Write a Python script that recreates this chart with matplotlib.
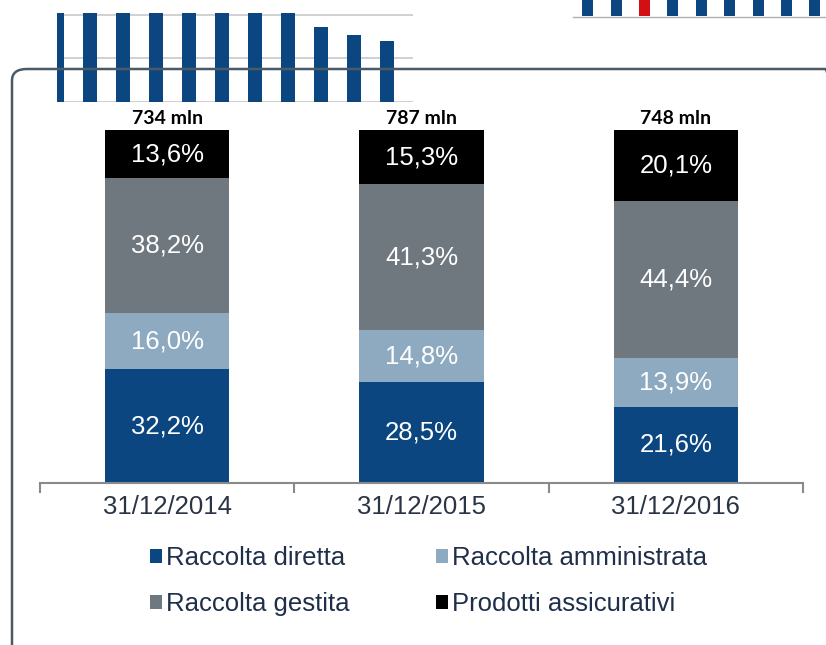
import matplotlib
matplotlib.use("Agg")
import matplotlib.pyplot as plt
from matplotlib.patches import Patch, FancyBboxPatch, Rectangle
import numpy as np

# ---- data ----
categories = ["31/12/2014", "31/12/2015", "31/12/2016"]
totals = ["734 mln", "787 mln", "748 mln"]
series_names = ["Raccolta diretta", "Raccolta amministrata", "Raccolta gestita", "Prodotti assicurativi"]
raccolta_diretta = [32.2, 28.5, 21.6]
raccolta_amministrata = [16.0, 14.8, 13.9]
raccolta_gestita = [38.2, 41.3, 44.4]
prodotti_assicurativi = [13.6, 15.3, 20.1]
colors = ["#0b4680", "#8eaac0", "#6f777f", "#000000"]

# decorative fragments visible in the screenshot
deco_left_heights = [1.2, 1.2, 1.2, 1.2, 1.2, 1.2, 1.2, 1.2, 0.84, 0.75, 0.69, 0.55]
deco_right_heights = [1, 1, 1, 1, 1, 1, 1, 1, 1]
deco_right_colors = ["#0b4680", "#0b4680", "#d40f14", "#0b4680", "#0b4680",
                     "#0b4680", "#0b4680", "#0b4680", "#0b4680"]

W, H = 826, 645
fig = plt.figure(figsize=(W / 100, H / 100), dpi=100)
fig.patch.set_facecolor("white")

def px_axes(x0, y0, x1, y1, **kw):
    return fig.add_axes([x0 / W, 1 - y1 / H, (x1 - x0) / W, (y1 - y0) / H], **kw)

# frame (rounded border)
frame = FancyBboxPatch((12 / W, -0.2), (840 - 12) / W, (1 - 69 / H) + 0.2,
                       boxstyle="round,pad=0,rounding_size=0.018",
                       transform=fig.transFigure, facecolor="none",
                       edgecolor="#4a5a66", linewidth=1.8, zorder=0)
fig.patches.append(frame)

# top-left decoration
axd = px_axes(57, 13, 413, 102)
xd = np.arange(len(deco_left_heights))
axd.bar(xd, deco_left_heights, width=0.42, color="#0b4680", zorder=2)
for g in [0, 0.49, 0.98]:
    axd.axhline(g, color="#c8c8c8", linewidth=1.2, zorder=1)
axd.set_xlim(0, 10.79)
axd.set_ylim(0, 1.0)
axd.axis("off")
axd.add_patch(Rectangle((0, 0), 1, 1, transform=axd.transAxes, facecolor="white", zorder=0))

# top-right decoration
axr = px_axes(573, 0, 826, 16)
xr = np.arange(len(deco_right_heights))
axr.bar(xr, deco_right_heights, width=0.39, color=deco_right_colors)
axr.set_xlim(-0.52, 8.39)
axr.set_ylim(0, 1)
axr.axis("off")
fig.add_artist(plt.Line2D([573 / W, 1], [1 - 16.5 / H] * 2, color="#b0b0b0", lw=1))

# main chart
ax = px_axes(40, 130, 803, 483)
x = np.arange(len(categories))
bw = 0.49
stack = [raccolta_diretta, raccolta_amministrata, raccolta_gestita, prodotti_assicurativi]
bottom = np.zeros(len(categories))
for vals, col, name in zip(stack, colors, series_names):
    vals = np.array(vals)
    ax.bar(x, vals, bw, bottom=bottom, color=col, label=name)
    for xi, b, v in zip(x, bottom, vals):
        ax.text(xi, b + v / 2, f"{v:.1f}".replace(".", ",") + "%",
                ha="center", va="center", color="white", fontsize=18.5,
                family="Liberation Sans")
    bottom = bottom + vals
for xi, t in zip(x, totals):
    ax.text(xi, 100.9, t, ha="center", va="bottom", fontsize=14,
            fontweight="bold", family="Lato", color="black", clip_on=False)

ax.set_xlim(-0.5, 2.5)
ax.set_ylim(0, 100)
for s in ["top", "right", "left"]:
    ax.spines[s].set_visible(False)
ax.spines["bottom"].set_color("#8a8a8a")
ax.spines["bottom"].set_linewidth(1.5)
ax.set_yticks([])
ax.set_xticks([-0.5, 0.5, 1.5, 2.5])
ax.set_xticklabels([])
ax.tick_params(axis="x", length=7, width=1.5, color="#8a8a8a", direction="out")
for xi, c in zip(x, categories):
    ax.text(xi, -3.3, c, ha="center", va="top", fontsize=18.5,
            family="Liberation Sans", color="#2b3445")

handles = [Patch(facecolor=c, edgecolor="none") for c in colors]
order = [0, 2, 1, 3]
leg = fig.legend([handles[i] for i in order], [series_names[i] for i in order],
                 ncol=2, loc="upper left", bbox_to_anchor=(127 / W, 1 - 523 / H),
                 frameon=False, handlelength=0.47, handleheight=0.47,
                 handletextpad=0.15, columnspacing=3.37, labelspacing=0.86,
                 prop={"family": "Liberation Sans", "size": 18.5})
for t in leg.get_texts():
    t.set_color("#1f2f4a")

fig.savefig("out.png", dpi=100, facecolor="white")
